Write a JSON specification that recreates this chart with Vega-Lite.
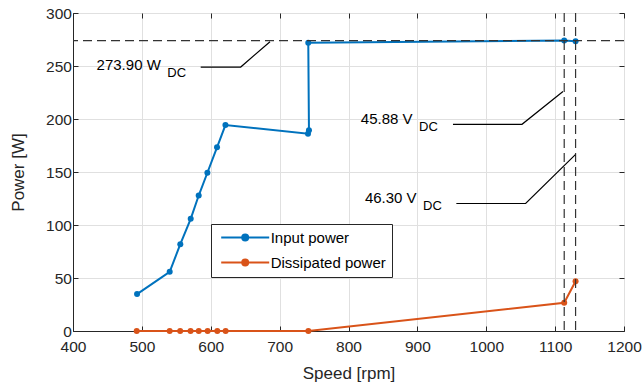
{
  "$schema": "https://vega.github.io/schema/vega-lite/v6.json",
  "width": 551,
  "height": 318,
  "autosize": {"type": "none"},
  "padding": {"left": 73, "top": 13, "right": 20, "bottom": 60},
  "background": "white",
  "config": {
    "font": "Liberation Sans",
    "view": {"stroke": "#262626", "strokeWidth": 1},
    "axis": {
      "labelFont": "Liberation Sans",
      "labelFontSize": 15.5,
      "labelColor": "#262626",
      "titleFont": "Liberation Sans",
      "titleFontSize": 17,
      "titleFontWeight": "normal",
      "titleColor": "#262626",
      "domainColor": "#262626",
      "tickColor": "#262626",
      "gridColor": "#e0e0e0",
      "gridWidth": 1,
      "tickSize": -5,
      "format": "d"
    },
    "legend": {
      "orient": "none",
      "legendX": 138,
      "legendY": 211,
      "fillColor": "white",
      "strokeColor": "#262626",
      "padding": 6,
      "labelFont": "Liberation Sans",
      "labelFontSize": 15,
      "labelColor": "#000000",
      "symbolType": "M-6,0H6M-0.75,0A0.75,0.75,0,1,0,0.75,0A0.75,0.75,0,1,0,-0.75,0Z",
      "symbolSize": 64,
      "symbolStrokeWidth": 2,
      "symbolOffset": 20.7,
      "labelOffset": 18,
      "rowPadding": 9
    }
  },
  "datasets": {
    "series": [
      {"series": "Input power", "order": 1, "speed": 493.0, "power": 34.8},
      {"series": "Input power", "order": 2, "speed": 540.4, "power": 55.9},
      {"series": "Input power", "order": 3, "speed": 555.8, "power": 81.9},
      {"series": "Input power", "order": 4, "speed": 570.9, "power": 105.8},
      {"series": "Input power", "order": 5, "speed": 582.5, "power": 127.8},
      {"series": "Input power", "order": 6, "speed": 595.1, "power": 149.3},
      {"series": "Input power", "order": 7, "speed": 609.1, "power": 173.3},
      {"series": "Input power", "order": 8, "speed": 621.3, "power": 194.3},
      {"series": "Input power", "order": 9, "speed": 741.2, "power": 186.2},
      {"series": "Input power", "order": 10, "speed": 742.6, "power": 189.3},
      {"series": "Input power", "order": 11, "speed": 741.6, "power": 271.9},
      {"series": "Input power", "order": 12, "speed": 1113.2, "power": 274.1},
      {"series": "Input power", "order": 13, "speed": 1129.7, "power": 273.4},
      {"series": "Dissipated power", "order": 1, "speed": 492.5, "power": 0},
      {"series": "Dissipated power", "order": 2, "speed": 540.4, "power": 0},
      {"series": "Dissipated power", "order": 3, "speed": 555.6, "power": 0},
      {"series": "Dissipated power", "order": 4, "speed": 570.7, "power": 0},
      {"series": "Dissipated power", "order": 5, "speed": 582.6, "power": 0},
      {"series": "Dissipated power", "order": 6, "speed": 595.5, "power": 0},
      {"series": "Dissipated power", "order": 7, "speed": 609.5, "power": 0},
      {"series": "Dissipated power", "order": 8, "speed": 621.6, "power": 0},
      {"series": "Dissipated power", "order": 9, "speed": 741.7, "power": 0},
      {"series": "Dissipated power", "order": 10, "speed": 1113.2, "power": 26.6},
      {"series": "Dissipated power", "order": 11, "speed": 1129.7, "power": 46.9}
    ],
    "hrule": [{"power": 273.9}],
    "vrule": [{"speed": 1113.2}, {"speed": 1129.7}],
    "leaders": [
      {"ann": "a1", "order": 1, "speed": 585.4, "power": 249.0},
      {"ann": "a1", "order": 2, "speed": 643.5, "power": 249.0},
      {"ann": "a1", "order": 3, "speed": 686.0, "power": 272.9},
      {"ann": "a2", "order": 1, "speed": 951.7, "power": 195.0},
      {"ann": "a2", "order": 2, "speed": 1051.9, "power": 195.0},
      {"ann": "a2", "order": 3, "speed": 1111.4, "power": 226.0},
      {"ann": "a3", "order": 1, "speed": 956.6, "power": 120.3},
      {"ann": "a3", "order": 2, "speed": 1057.2, "power": 120.3},
      {"ann": "a3", "order": 3, "speed": 1129.4, "power": 166.4}
    ],
    "labels": [
      {"label": "273.90 W", "speed": 527.5, "power": 251.0},
      {"label": "45.88 V", "speed": 893.0, "power": 200.3},
      {"label": "46.30 V", "speed": 898.9, "power": 125.3}
    ]
  },
  "layer": [
    {
      "data": {"name": "series"},
      "mark": {"type": "line", "strokeWidth": 2},
      "encoding": {
        "x": {
          "field": "speed", "type": "quantitative",
          "scale": {"domain": [400, 1200], "nice": false, "zero": false},
          "axis": {"title": "Speed [rpm]", "values": [400, 500, 600, 700, 800, 900, 1000, 1100, 1200], "grid": true, "labelPadding": 13.5, "titlePadding": 10, "labelFlush": false}
        },
        "y": {
          "field": "power", "type": "quantitative",
          "scale": {"domain": [0, 300], "nice": false},
          "axis": {"title": "Power [W]", "values": [0, 50, 100, 150, 200, 250, 300], "grid": true, "labelPadding": 6.6, "titlePadding": 18, "labelFlush": false}
        },
        "color": {
          "field": "series", "type": "nominal",
          "scale": {"domain": ["Input power", "Dissipated power"], "range": ["#0072BD", "#D95319"]},
          "legend": {"title": null}
        },
        "order": {"field": "order", "type": "quantitative"}
      }
    },
    {
      "data": {"name": "series"},
      "mark": {"type": "point", "filled": true, "opacity": 1, "size": 36},
      "encoding": {
        "x": {"field": "speed", "type": "quantitative", "axis": null},
        "y": {"field": "power", "type": "quantitative", "axis": null},
        "color": {"field": "series", "type": "nominal", "legend": {"title": null}}
      }
    },
    {
      "data": {"name": "series"},
      "mark": {"type": "point", "opacity": 0},
      "encoding": {
        "x": {"field": "speed", "type": "quantitative",
          "axis": {"orient": "top", "labels": false, "grid": false, "title": null, "domain": false, "values": [400, 500, 600, 700, 800, 900, 1000, 1100, 1200]}},
        "y": {"field": "power", "type": "quantitative",
          "axis": {"orient": "right", "labels": false, "grid": false, "title": null, "domain": false, "values": [0, 50, 100, 150, 200, 250, 300]}}
      }
    },
    {
      "data": {"name": "hrule"},
      "mark": {"type": "rule", "color": "#333333", "strokeWidth": 1.2, "strokeDash": [9, 5]},
      "encoding": {
        "y": {"field": "power", "type": "quantitative", "axis": null}
      }
    },
    {
      "data": {"name": "vrule"},
      "mark": {"type": "rule", "color": "#333333", "strokeWidth": 1.2, "strokeDash": [9, 5]},
      "encoding": {
        "x": {"field": "speed", "type": "quantitative", "axis": null}
      }
    },
    {
      "data": {"name": "leaders"},
      "mark": {"type": "line", "color": "#000000", "strokeWidth": 1.2},
      "encoding": {
        "x": {"field": "speed", "type": "quantitative", "axis": null},
        "y": {"field": "power", "type": "quantitative", "axis": null},
        "detail": {"field": "ann", "type": "nominal"},
        "order": {"field": "order", "type": "quantitative"}
      }
    },
    {
      "data": {"name": "labels"},
      "mark": {"type": "text", "align": "right", "baseline": "middle", "fontSize": 15, "font": "Liberation Sans", "color": "#000000"},
      "encoding": {
        "x": {"field": "speed", "type": "quantitative", "axis": null},
        "y": {"field": "power", "type": "quantitative", "axis": null},
        "text": {"field": "label", "type": "nominal"}
      }
    },
    {
      "data": {"name": "labels"},
      "mark": {"type": "text", "align": "left", "baseline": "middle", "fontSize": 13, "font": "Liberation Sans", "color": "#000000", "text": "DC", "dx": 6.5, "dy": 8},
      "encoding": {
        "x": {"field": "speed", "type": "quantitative", "axis": null},
        "y": {"field": "power", "type": "quantitative", "axis": null}
      }
    }
  ],
  "resolve": {"axis": {"x": "independent", "y": "independent"}}
}
